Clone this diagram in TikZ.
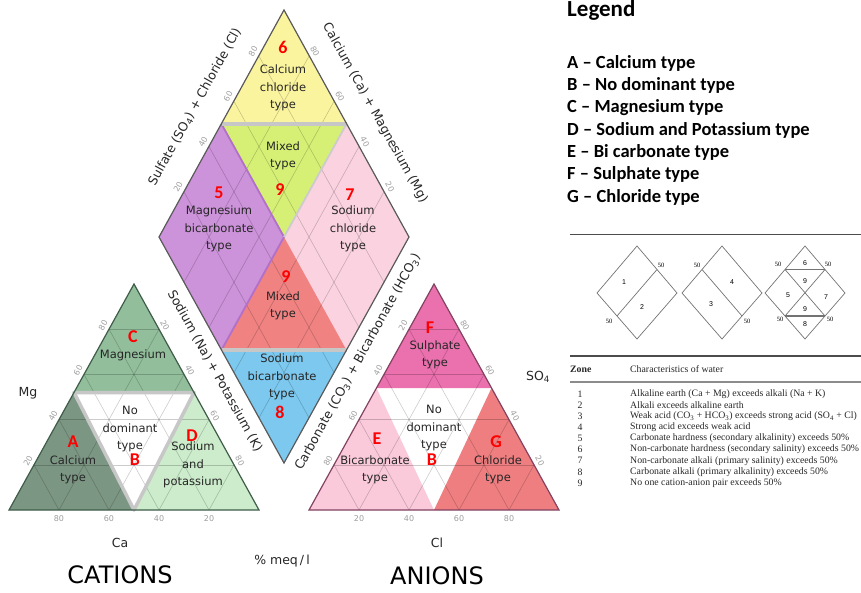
\documentclass[tikz,border=0pt]{standalone}
\usepackage{fontspec}
\setmainfont{DejaVu Sans}
\newfontfamily\legendfont{Carlito}
\newfontfamily\tablefont{Liberation Serif}
\newfontfamily\keyfont{Liberation Sans}

\definecolor{zoneYellow}{RGB}{250,244,158}
\definecolor{zoneLime}{RGB}{214,240,118}
\definecolor{zonePurple}{RGB}{204,146,218}
\definecolor{zonePurpleEdge}{RGB}{178,112,200}
\definecolor{zonePink}{RGB}{251,210,224}
\definecolor{zoneRed}{RGB}{240,130,130}
\definecolor{zoneBlue}{RGB}{124,200,238}
\definecolor{catMid}{RGB}{146,190,156}
\definecolor{catDark}{RGB}{124,150,132}
\definecolor{catLight}{RGB}{204,236,204}
\definecolor{catEdge}{RGB}{62,92,72}
\definecolor{anMag}{RGB}{234,112,174}
\definecolor{anPink}{RGB}{250,202,218}
\definecolor{anRed}{RGB}{238,126,128}
\definecolor{anEdge}{RGB}{130,66,96}

\begin{document}
\begin{tikzpicture}[x=1pt, y=-1pt]
	\tikzstyle{zonetext}   = [align=center, inner sep=0pt, text=black!85, font=\fontsize{11.5}{17.5}\selectfont]
	\tikzstyle{zoneletter} = [inner sep=0pt, text=red, font=\legendfont\bfseries\fontsize{18}{18}\selectfont]
	\tikzstyle{tick}       = [inner sep=0pt, text=black!38, font=\fontsize{8}{8}\selectfont]
	\tikzstyle{axislabel}  = [inner sep=0pt, text=black!85, font=\fontsize{12.5}{13}\selectfont]
	\tikzstyle{gridline}   = [black, opacity=0.2, line width=0.6pt]
	\tikzstyle{zoneborder} = [black!22, line width=3.5pt]
	\tikzstyle{legenditem} = [anchor=west, inner sep=0pt, font=\legendfont\bfseries\fontsize{18.5}{18.5}\selectfont]
	\tikzstyle{tablerow}   = [anchor=west, inner sep=0pt, text=black!85, font=\tablefont\fontsize{9.8}{9.8}\selectfont]
	\tikzstyle{keybox}     = [black!55, line width=0.7pt]
	\tikzstyle{keynum}     = [inner sep=0pt, font=\keyfont\fontsize{7}{7}\selectfont]
	\tikzstyle{keyfifty}   = [inner sep=0pt, font=\tablefont\fontsize{6.5}{6.5}\selectfont]

	\useasboundingbox (0,0) rectangle (861,592);

	% diamond corners and zone corners
	\coordinate (dB)  at (284,463);
	\coordinate (dL)  at (159,237);
	\coordinate (dR)  at (409,237);
	\coordinate (dT)  at (284,10);
	\coordinate (dC)  at (284,237);
	\coordinate (dUL) at (221.5,124);
	\coordinate (dUR) at (346.5,124);
	\coordinate (dLL) at (221.5,350);
	\coordinate (dLR) at (346.5,350);

	\fill[zoneYellow] (dT) -- (dUL) -- (dUR) -- cycle;
	\fill[zoneLime]   (dUL) -- (dUR) -- (dC) -- cycle;
	\fill[zonePurple] (dUL) -- (dL) -- (dLL) -- (dC) -- cycle;
	\fill[zonePink]   (dUR) -- (dR) -- (dLR) -- (dC) -- cycle;
	\fill[zoneRed]    (dC) -- (dLL) -- (dLR) -- cycle;
	\fill[zoneBlue]   (dLL) -- (dLR) -- (dB) -- cycle;

	% cation and anion triangles
	\coordinate (cL)  at (9,510);
	\coordinate (cR)  at (259,510);
	\coordinate (cT)  at (134,284);
	\coordinate (cM)  at (134,510);
	\coordinate (cHl) at (74,392.5);
	\coordinate (cHr) at (194,392.5);
	\fill[catMid]   (cT) -- (cHl) -- (cHr) -- cycle;
	\fill[catDark]  (cHl) -- (cL) -- (cM) -- cycle;
	\fill[catLight] (cHr) -- (cR) -- (cM) -- cycle;

	\coordinate (aL)  at (309,510);
	\coordinate (aR)  at (559,510);
	\coordinate (aT)  at (434,284);
	\coordinate (aM)  at (434,510);
	\coordinate (aHl) at (376.5,388);
	\coordinate (aHr) at (491.5,388);
	\fill[anMag]  (aT) -- (aHl) -- (aHr) -- cycle;
	\fill[anPink] (aHl) -- (aL) -- (aM) -- cycle;
	\fill[anRed]  (aHr) -- (aR) -- (aM) -- cycle;

	% grids
	\foreach \a in {0.2,0.4,0.6,0.8} {
		\draw[gridline] ({284-125*\a},{463-226*\a}) -- ({409-125*\a},{237-226*\a});
		\draw[gridline] ({284+125*\a},{463-226*\a}) -- ({159+125*\a},{237-226*\a});
	}
	\foreach \ox in {9,309}
		\foreach \t in {0.2,0.4,0.6,0.8} {
			\draw[gridline] ({\ox+125*\t},{510-226*\t}) -- ({\ox+250-125*\t},{510-226*\t});
			\draw[gridline] ({\ox+250*\t},510) -- ({\ox+125+125*\t},{284+226*\t});
			\draw[gridline] ({\ox+250*\t},510) -- ({\ox+125*\t},{510-226*\t});
		}

	% zone borders
	\draw[zonePurpleEdge, line width=1.8pt] (dUL) -- (dC) -- (dLL);
	\draw[black!20, line width=1.8pt] (dUR) -- (dC);
	\draw[zoneborder] (dUL) -- (dUR);
	\draw[zoneborder] (dLL) -- (dLR);
	\draw[zoneborder, line join=round] (cHl) -- (cHr) -- (cM) -- cycle;

	% outlines
	\draw[black!65, line width=1.2pt] (dB) -- (dL) -- (dT) -- (dR) -- cycle;
	\draw[catEdge, line width=1.2pt] (cL) -- (cR) -- (cT) -- cycle;
	\draw[anEdge, line width=1.2pt] (aL) -- (aR) -- (aT) -- cycle;

	% tick labels
	\foreach \m/\lft/\rgt in {0.8/80/20, 0.6/60/40, 0.4/40/60, 0.2/20/80} {
		\node[tick, rotate=61]  (dSO\lft) at ({153+125*\m},{232-226*\m}) {\lft};
		\node[tick, rotate=-61] (dCa\lft) at ({415-125*\m},{232-226*\m}) {\lft};
		\node[tick, rotate=61]  (cMg\lft) at ({3+125*\m},{506-226*\m}) {\lft};
		\node[tick, rotate=-61] (cNa\rgt) at ({265-125*\m},{506-226*\m}) {\rgt};
		\node[tick]             (cCa\lft) at ({259-250*\m},519) {\lft};
		\node[tick, rotate=61]  (aCO\rgt) at ({303+125*\m},{506-226*\m}) {\rgt};
		\node[tick, rotate=-61] (aSO\lft) at ({565-125*\m},{506-226*\m}) {\lft};
		\node[tick]             (aCl\rgt) at ({559-250*\m},519) {\rgt};
	}

	% diamond texts
	\node[zoneletter] (d6)     at (283,47)  {6};
	\node[zonetext]   (dCaCl)  at (283,88)  {Calcium\\chloride\\type};
	\node[zonetext]   (dMixA)  at (283,156) {Mixed\\type};
	\node[zoneletter] (d9a)    at (280,190) {9};
	\node[zoneletter] (d5)     at (219,193) {5};
	\node[zonetext]   (dMgHCO) at (219,229) {Magnesium\\bicarbonate\\type};
	\node[zoneletter] (d7)     at (350,195) {7};
	\node[zonetext]   (dNaCl)  at (353,229) {Sodium\\chloride\\type};
	\node[zoneletter] (d9b)    at (286,277) {9};
	\node[zonetext]   (dMixB)  at (283,306) {Mixed\\type};
	\node[zonetext]   (dNaHCO) at (282,377) {Sodium\\bicarbonate\\type};
	\node[zoneletter] (d8)     at (280,412) {8};

	% cation texts
	\node[zoneletter] (cC)   at (133,337) {C};
	\node[zonetext]   (cMg)  at (133,355) {Magnesium};
	\node[zonetext]   (cNo)  at (130,429) {No\\dominant\\type};
	\node[zoneletter] (cA)   at (73,442)  {A};
	\node[zonetext]   (cCa)  at (73,470)  {Calcium\\type};
	\node[zoneletter] (cB)   at (135,460) {B};
	\node[zoneletter] (cD)   at (192,436) {D};
	\node[zonetext]   (cNaK) at (193,465) {Sodium\\and\\potassium};

	% anion texts
	\node[zoneletter] (aF)   at (430,328) {F};
	\node[zonetext]   (aSO)  at (435,355) {Sulphate\\type};
	\node[zonetext]   (aNo)  at (434,428) {No\\dominant\\type};
	\node[zoneletter] (aE)   at (377,439) {E};
	\node[zonetext]   (aHCO) at (375,470) {Bicarbonate\\type};
	\node[zoneletter] (aB)   at (432,460) {B};
	\node[zoneletter] (aG)   at (496,442) {G};
	\node[zonetext]   (aCl)  at (498,470) {Chloride\\type};

	% axis labels
	\node[axislabel, rotate=61]  (sulfate)   at (195,107) {Sulfate (SO\textsubscript{4}) + Chloride (Cl)};
	\node[axislabel, rotate=-61] (calcium)   at (375,113) {Calcium (Ca) + Magnesium (Mg)};
	\node[axislabel, rotate=-61] (sodium)    at (215,371) {Sodium (Na) + Potassium (K)};
	\node[axislabel, rotate=61]  (carbonate) at (358,362) {Carbonate (CO\textsubscript{3}) + Bicarbonate (HCO\textsubscript{3})};
	\node[axislabel] (mg)      at (28,393)  {Mg};
	\node[axislabel] (ca)      at (120,543) {Ca};
	\node[axislabel] (so4)     at (538,377) {SO\textsubscript{4}};
	\node[axislabel] (cl)      at (437,543) {Cl};
	\node[axislabel] (meq)     at (282,561) {\% meq\,/\,l};
	\node[inner sep=0pt, font=\fontsize{24}{24}\selectfont] (cations) at (120,575) {CATIONS};
	\node[inner sep=0pt, font=\fontsize{24}{24}\selectfont] (anions)  at (437,576) {ANIONS};

	% legend
	\node[legenditem, font=\legendfont\bfseries\fontsize{23}{23}\selectfont] (legend) at (567,10) {Legend};
	\foreach \ltr/\txt [count=\i] in {A/Calcium type, B/No dominant type, C/Magnesium type, D/Sodium and Potassium type, E/Bi carbonate type, F/Sulphate type, G/Chloride type}
		\node[legenditem] (leg\ltr) at (567,{40.7+22.33*\i}) {\ltr{} – \txt};

	% key diamonds
	\draw[black!70, line width=1pt] (570,234) -- (861,234);
	\foreach \cx/\nm in {637/one, 722/two, 805/three}
		\draw[keybox] (\cx,246) -- (\cx+40,293) -- (\cx,339) -- (\cx-40,293) -- cycle;
	\draw[keybox] (657,269.5) -- (617,316);
	\draw[keybox] (702,269.5) -- (742,316);
	\draw[keybox, line width=1.1pt] (785,269.5) -- (825,269.5);
	\draw[keybox, line width=1.1pt] (785,316) -- (825,316);
	\draw[keybox] (785,269.5) -- (825,316);
	\draw[keybox] (825,269.5) -- (785,316);
	\foreach \num/\x/\y in {1/624/282, 2/642/307, 3/711/304, 4/732/282, 6/805/263, 9/805/281, 5/788/295, 7/826/297, 9/805/309, 8/805/324}
		\node[keynum] (key\num-\x) at (\x,\y) {\num};
	\foreach \x/\y in {661/265, 609/321, 697/265, 747/321, 778/264, 828/264, 780/319, 830/319}
		\node[keyfifty] (fifty\x) at (\x,\y) {50};

	% table
	\draw[black!70, line width=1.2pt] (570,356) -- (861,356);
	\draw[black!45, line width=1.5pt] (570,382) -- (861,382);
	\node[tablerow, font=\tablefont\bfseries\fontsize{9.8}{9.8}\selectfont] (zonehead) at (570,369) {Zone};
	\node[tablerow] (charhead) at (630,369) {Characteristics of water};
	\foreach \z/\txt in {1/{Alkaline earth (Ca + Mg) exceeds alkali (Na + K)},
		2/{Alkali exceeds alkaline earth},
		3/{Weak acid (CO\textsubscript{3} + HCO\textsubscript{3}) exceeds strong acid (SO\textsubscript{4} + Cl)},
		4/{Strong acid exceeds weak acid},
		5/{Carbonate hardness (secondary alkalinity) exceeds 50\%},
		6/{Non-carbonate hardness (secondary salinity) exceeds 50\%},
		7/{Non-carbonate alkali (primary salinity) exceeds 50\%},
		8/{Carbonate alkali (primary alkalinity) exceeds 50\%},
		9/{No one cation-anion pair exceeds 50\%}} {
		\node[tablerow, anchor=center] (num\z) at (580,{383+11.1*\z}) {\z};
		\node[tablerow] (row\z) at (630,{383+11.1*\z}) {\txt};
	}
\end{tikzpicture}
\end{document}
